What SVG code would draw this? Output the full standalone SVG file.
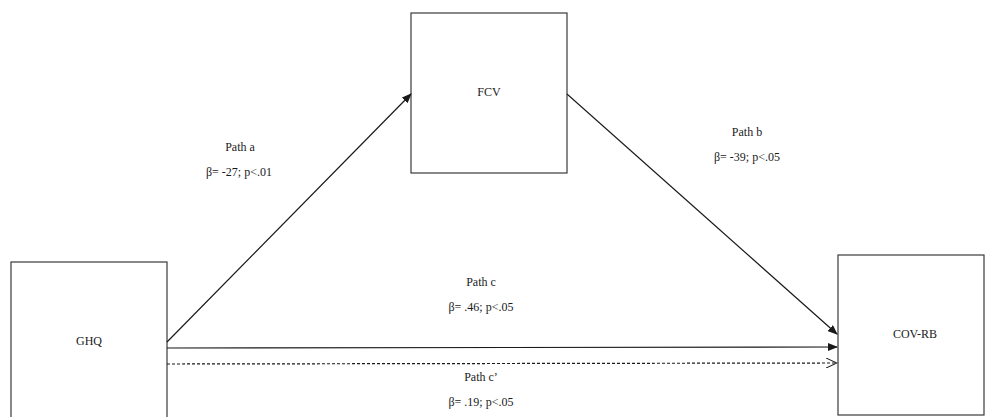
<svg xmlns="http://www.w3.org/2000/svg" width="985" height="417" viewBox="0 0 985 417">
<style>
.box{fill:#fff;stroke:#3a3a3a;stroke-width:1.2}
.lbl{font-family:'Liberation Serif','Times New Roman',serif;font-size:12px;fill:#1a1a1a;text-anchor:middle}
.con{stroke:#1a1a1a;stroke-width:1.2;fill:none}
</style>
<defs>
<marker id="ah" markerWidth="10" markerHeight="8" refX="9" refY="4" orient="auto" markerUnits="userSpaceOnUse">
<path d="M0,0 L10,4 L0,8 Z" fill="#1a1a1a"/>
</marker>
<marker id="oh" markerWidth="12" markerHeight="10" refX="11" refY="5" orient="auto" markerUnits="userSpaceOnUse">
<path d="M0,0 L11,5 L0,10" fill="none" stroke="#1a1a1a" stroke-width="1"/>
</marker>
</defs>
<rect width="985" height="417" fill="#fff"/>
<g id="GHQ">
<rect class="box" x="11" y="262" width="156" height="170"/>
<text class="lbl" x="89" y="345">GHQ</text>
</g>
<g id="FCV">
<rect class="box" x="411" y="13" width="156" height="160"/>
<text class="lbl" x="489" y="96">FCV</text>
</g>
<g id="COV-RB">
<rect class="box" x="838" y="255" width="146" height="160"/>
<text class="lbl" x="915" y="338">COV-RB</text>
</g>
<g id="connectors">
<line class="con" x1="167" y1="342" x2="411" y2="94" marker-end="url(#ah)"/>
<line class="con" x1="567" y1="94" x2="837" y2="334" marker-end="url(#ah)"/>
<line class="con" x1="167" y1="348" x2="837" y2="347" marker-end="url(#ah)"/>
<line class="con" x1="167" y1="364" x2="837" y2="363" stroke-dasharray="3,2" marker-end="url(#oh)"/>
</g>
<g id="labels">
<text class="lbl" x="240" y="151">Path a</text>
<text class="lbl" x="239" y="176">β= -27; p&lt;.01</text>
<text class="lbl" x="747" y="136">Path b</text>
<text class="lbl" x="747" y="161">β= -39; p&lt;.05</text>
<text class="lbl" x="481" y="286">Path c</text>
<text class="lbl" x="481" y="311">β= .46; p&lt;.05</text>
<text class="lbl" x="481" y="381">Path c’</text>
<text class="lbl" x="481" y="406">β= .19; p&lt;.05</text>
</g>
</svg>
